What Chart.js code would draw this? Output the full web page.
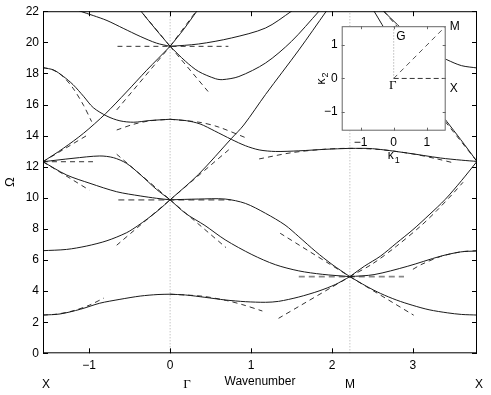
<!DOCTYPE html>
<html>
<head>
<meta charset="utf-8">
<script src="https://cdn.jsdelivr.net/npm/chart.js@4.4.1/dist/chart.umd.min.js"></script>
<style>
  body { margin: 0; background: #fff; }
  #wrap { position: relative; width: 491px; height: 395px; }
  #bands { position: absolute; left: 0; top: 0; }
  #zone { position: absolute; left: 300px; top: 15px; }
</style>
</head>
<body>
<div id="wrap">
  <canvas id="bands" width="491" height="395"></canvas>
  <canvas id="zone" width="180" height="160"></canvas>
</div>
<script>
// axes
const kRange = [-1.5708, 3.7922];
const omegaRange = [0, 22];
const xTicks = [-1, 0, 1, 2, 3];
const yTicks = [0, 2, 4, 6, 8, 10, 12, 14, 16, 18, 20, 22];
const symPoints = [-1.5708, 0, 2.2214, 3.7922];
const symNames = ['X', 'Γ', 'M', 'X'];

// solid bands, [wavenumber, Omega], X -> Gamma
const xgBand1 = [[-1.571,2.46],[-1.36,2.53],[-1.11,2.83],[-0.87,3.22],[-0.62,3.47],[-0.37,3.68],[-0.15,3.78],[0,3.8]];
const xgBand2 = [[-1.571,6.6],[-1.28,6.68],[-1.03,6.9],[-0.78,7.24],[-0.54,7.75],[-0.4,8.2],[-0.28,8.65],[-0.14,9.22],[0,9.87]];
const xgBand3 = [[-1.571,12.32],[-1.28,11.47],[-0.99,10.93],[-0.66,10.39],[-0.37,10.12],[-0.17,9.97],[0,9.87]];
const xgBand4 = [[-1.571,12.32],[-1.2,12.54],[-0.87,12.69],[-0.7,12.58],[-0.54,12.22],[-0.37,11.5],[-0.17,10.55],[0,9.87]];
const xgBand5 = [[-1.571,12.32],[-1.32,13.18],[-1.07,14.15],[-0.8,15.4],[-0.54,16.8],[-0.29,18.2],[0,19.74]];
const xgBand6 = [[-1.571,18.37],[-1.44,18.22],[-1.32,17.81],[-1.2,17.28],[-1.07,16.53],[-0.95,15.8],[-0.78,15.25],[-0.62,14.95],[-0.45,14.86],[-0.25,14.97],[0,15.05]];
const xgBand7 = [[-1.25,22.3],[-1.11,22.0],[-0.95,21.72],[-0.78,21.4],[-0.58,20.9],[-0.37,20.38],[-0.17,19.95],[0,19.74]];
const xgBand8 = [[-0.42,22.45],[-0.36,22.0],[-0.18,20.85],[0,19.74]];

// Gamma -> M
const gmBand1 = [[0,3.8],[0.19,3.75],[0.43,3.6],[0.68,3.43],[0.93,3.32],[1.18,3.28],[1.34,3.34],[1.59,3.62],[1.84,4.01],[2.04,4.42],[2.221,4.93]];
const gmBand2 = [[0,9.87],[0.19,9.0],[0.43,8.22],[0.68,7.3],[1.01,6.35],[1.3,5.7],[1.59,5.3],[1.88,5.08],[2.221,4.93]];
const gmBand3 = [[0,9.87],[0.35,9.92],[0.68,9.92],[0.93,9.64],[1.18,9.0],[1.42,8.25],[1.59,7.5],[1.8,6.54],[2.0,5.72],[2.221,4.93]];
const gmBand4 = [[0,9.87],[0.35,11.5],[0.76,13.83],[0.91,14.68],[1.18,16.65],[1.59,19.5],[1.93,22.0],[2.0,22.5]];
const gmBand5 = [[0,15.05],[0.2,14.96],[0.37,14.75],[0.55,14.3],[0.76,13.75],[0.93,13.35],[1.1,13.08],[1.3,12.98],[1.59,13.02],[1.92,13.12],[2.221,13.18]];
const gmBand6 = [[0,19.74],[0.35,19.89],[0.76,20.28],[1.18,20.92],[1.5,22.0],[1.6,22.4]];
const gmBand7 = [[0,19.74],[0.19,18.78],[0.35,18.13],[0.56,17.66],[0.65,17.6],[0.85,17.8],[1.18,18.67],[1.5,20.06],[1.84,22.0],[1.9,22.35]];
const gmBand8 = [[0,19.74],[0.17,20.85],[0.33,22.0],[0.38,22.35]];

// M -> X
const mxBand1 = [[2.221,4.93],[2.43,4.3],[2.6,3.85],[2.8,3.42],[3.0,3.08],[3.2,2.8],[3.43,2.6],[3.6,2.5],[3.792,2.46]];
const mxBand2 = [[2.221,4.93],[2.52,5.06],[2.93,5.59],[3.34,6.24],[3.59,6.52],[3.792,6.58]];
const mxBand3 = [[2.221,4.93],[2.4,5.6],[2.6,6.25],[2.8,7.1],[3.0,7.95],[3.2,8.9],[3.4,9.9],[3.6,11.1],[3.792,12.34]];
const mxBand4 = [[2.221,13.18],[2.5,13.16],[2.93,12.88],[3.34,12.56],[3.6,12.42],[3.792,12.34]];
const mxBand5 = [[2.48,22.35],[2.52,22.0],[2.62,21.13],[2.8,19.5],[3.0,17.9],[3.2,16.4],[3.42,14.9],[3.59,13.75],[3.792,12.34]];
const mxBand6 = [[2.58,22.4],[2.64,22.0],[2.81,21.13],[3.0,20.2],[3.2,19.45],[3.42,18.88],[3.6,18.5],[3.792,18.35]];

// dashed approximations
const gDash1 = [[-0.65,19.74],[0.72,19.74]];
const gDash2 = [[-0.4,22.25],[0,19.74]];
const gDash3 = [[0,19.74],[0.35,22.2]];
const gDash4 = [[0,19.74],[0.47,16.83]];
const gDash5 = [[-0.66,15.65],[0,19.74]];
const gDash6 = [[-0.64,9.87],[0.75,9.87]];
const gDash7 = [[-0.66,6.95],[0,9.87]];
const gDash8 = [[0,9.87],[0.69,6.8]];
const gDash9 = [[0,9.87],[0.75,13.2]];
const gDash10 = [[-0.66,12.8],[0,9.87]];
const gDash11 = [[-0.66,14.36],[-0.45,14.73],[-0.25,14.95],[0,15.05]];
const gDash12 = [[0,15.05],[0.37,14.85],[0.6,14.55],[0.95,13.83]];
const gDash13 = [[0,3.8],[0.4,3.67],[0.7,3.39],[0.9,3.12],[1.14,2.72]];
const xDash1 = [[-1.571,2.46],[-1.4,2.52],[-1.2,2.73],[-1.0,3.09],[-0.82,3.55]];
const xDash2 = [[-1.571,12.32],[-0.95,12.32]];
const xDash3 = [[-1.571,12.32],[-1.0,14.1]];
const xDash4 = [[-1.571,12.32],[-1.0,10.5]];
const xDash5 = [[-1.571,18.37],[-1.45,18.23],[-1.32,17.78],[-1.2,17.05],[-1.07,15.95],[-0.97,14.9]];
const mDash1 = [[1.59,4.93],[2.89,4.93]];
const mDash2 = [[1.34,2.25],[2.221,4.93]];
const mDash3 = [[1.36,7.72],[2.221,4.93]];
const mDash4 = [[2.221,4.93],[2.5,5.75],[2.8,6.9],[3.1,8.2],[3.3,9.2],[3.5,10.3],[3.62,11.0]];
const mDash5 = [[2.221,4.93],[3.01,2.45]];
const mDash6 = [[1.1,12.5],[1.5,12.9],[1.9,13.12],[2.221,13.18],[2.6,13.1],[3.0,12.82],[3.3,12.5],[3.5,12.25]];
const xrDash1 = [[3.0,5.4],[3.1,5.7],[3.34,6.22],[3.6,6.53],[3.792,6.6]];
const xrDash2 = [[3.4,14.9],[3.792,12.34]];
const xrDash3 = [[2.64,22.0],[2.8,21.05]];

// inset: Brillouin zone
const zoneRange = [-1.5708, 1.5708];
const zoneTicks = [-1, 0, 1];
const pathGG = [[0,0],[0,1.5708]];
const pathGM = [[0,0],[1.5708,1.5708]];
const pathGX = [[0,0],[1.5708,0]];

const solidBands = [xgBand1, xgBand2, xgBand3, xgBand4, xgBand5, xgBand6, xgBand7, xgBand8,
  gmBand1, gmBand2, gmBand3, gmBand4, gmBand5, gmBand6, gmBand7, gmBand8,
  mxBand1, mxBand2, mxBand3, mxBand4, mxBand5, mxBand6];
const dashedBands = [gDash1, gDash2, gDash3, gDash4, gDash5, gDash7, gDash8, gDash9, gDash10,
  gDash11, gDash12, gDash13, xDash1, xDash2, xDash3, xDash4, xDash5,
  mDash2, mDash3, mDash4, mDash5, mDash6, xrDash1, xrDash2, xrDash3];
const greyDashed = [gDash6, mDash1];

Chart.defaults.font.family = '"Liberation Sans", Arial, sans-serif';
Chart.defaults.font.size = 12;
Chart.defaults.color = '#000';

const pts = arr => arr.map(p => ({ x: p[0], y: p[1] }));

let datasets = [];
[symPoints[1], symPoints[2]].forEach(k => {
  datasets.push({ data: pts([[k, omegaRange[0]], [k, omegaRange[1]]]), borderColor: '#aaa',
    borderWidth: 1, borderDash: [1, 2], order: 10, tension: 0 });
});
greyDashed.forEach(d => datasets.push({ data: pts(d), borderColor: '#888', borderWidth: 1.8,
  borderDash: [6, 4], order: 6, tension: 0 }));
dashedBands.forEach(d => datasets.push({ data: pts(d), borderColor: '#333', borderWidth: 1,
  borderDash: [5, 4], order: 5, tension: 0.3 }));
solidBands.forEach(d => datasets.push({ data: pts(d), borderColor: '#1a1a1a', borderWidth: 1,
  order: 0, tension: 0.3 }));

const frame = {
  id: 'frame',
  afterDraw(chart) {
    const { ctx, chartArea: a, scales: { x, y } } = chart;
    ctx.save();
    ctx.strokeStyle = '#000';
    ctx.lineWidth = 1;
    ctx.strokeRect(a.left + 0.5, a.top + 0.5, a.right - a.left - 1, a.bottom - a.top - 1);
    ctx.beginPath();
    xTicks.forEach(v => {
      const px = Math.round(x.getPixelForValue(v)) + 0.5;
      ctx.moveTo(px, a.bottom); ctx.lineTo(px, a.bottom - 5);
      ctx.moveTo(px, a.top); ctx.lineTo(px, a.top + 5);
    });
    yTicks.forEach(v => {
      const py = Math.round(y.getPixelForValue(v)) + 0.5;
      ctx.moveTo(a.left, py); ctx.lineTo(a.left + 5, py);
      ctx.moveTo(a.right, py); ctx.lineTo(a.right - 5, py);
    });
    ctx.stroke();
    // symmetry point names under the axis
    const nudge = [3, 17, 0, 2];
    ctx.textAlign = 'center';
    ctx.textBaseline = 'middle';
    symPoints.forEach((k, i) => {
      ctx.font = symNames[i] === 'Γ' ? '13px "Liberation Serif", serif' : '12px "Liberation Sans", Arial, sans-serif';
      ctx.fillText(symNames[i], x.getPixelForValue(k) + nudge[i], 385);
    });
    ctx.restore();
  }
};

new Chart(document.getElementById('bands'), {
  type: 'line',
  data: { datasets },
  options: {
    responsive: false,
    animation: false,
    events: [],
    layout: { padding: { top: 11, right: 14, left: 0, bottom: 0 } },
    elements: { point: { radius: 0 } },
    plugins: { legend: { display: false }, tooltip: { enabled: false } },
    scales: {
      x: {
        type: 'linear', min: kRange[0], max: kRange[1],
        afterBuildTicks: s => { s.ticks = xTicks.map(v => ({ value: v })); },
        afterFit: s => { s.height = 41.7; },
        grid: { display: false, drawTicks: false },
        border: { display: false },
        ticks: { padding: 5, maxRotation: 0, callback: v => String(v).replace('-', '\u2212') },
        title: { display: true, text: 'Wavenumber', padding: { top: 0, bottom: 6 } }
      },
      y: {
        min: omegaRange[0], max: omegaRange[1],
        afterBuildTicks: s => { s.ticks = yTicks.map(v => ({ value: v })); },
        afterFit: s => { s.width = 43; },
        grid: { display: false, drawTicks: false },
        border: { display: false },
        ticks: { padding: 4 },
        title: { display: true, text: 'Ω', font: { size: 13 }, padding: { top: 3, bottom: 0 } }
      }
    }
  },
  plugins: [frame]
});

// inset
const zoneDecor = {
  id: 'zoneDecor',
  beforeDraw(chart) {
    const { ctx, chartArea: a } = chart;
    ctx.save();
    ctx.fillStyle = '#fff';
    ctx.fillRect(a.left, a.top, a.right - a.left, a.bottom - a.top);
    ctx.restore();
  },
  afterDraw(chart) {
    const { ctx, chartArea: a, scales: { x, y } } = chart;
    ctx.save();
    ctx.strokeStyle = '#666';
    ctx.lineWidth = 1;
    ctx.strokeRect(a.left + 0.5, a.top + 0.5, a.right - a.left - 1, a.bottom - a.top - 1);
    ctx.beginPath();
    zoneTicks.forEach(v => {
      const px = Math.round(x.getPixelForValue(v)) + 0.5;
      ctx.moveTo(px, a.bottom); ctx.lineTo(px, a.bottom - 3);
      ctx.moveTo(px, a.top); ctx.lineTo(px, a.top + 3);
      const py = Math.round(y.getPixelForValue(v)) + 0.5;
      ctx.moveTo(a.left, py); ctx.lineTo(a.left + 3, py);
      ctx.moveTo(a.right, py); ctx.lineTo(a.right - 3, py);
    });
    ctx.stroke();
    const ox = x.getPixelForValue(0), oy = y.getPixelForValue(0);
    ctx.fillStyle = '#000';
    ctx.textBaseline = 'middle';
    ctx.font = '12px "Liberation Sans", Arial, sans-serif';
    ctx.textAlign = 'left';
    ctx.fillText('G', ox + 2.5, a.top + 10);
    ctx.fillText('M', a.right + 4, a.top);
    ctx.fillText('X', a.right + 4, oy + 10);
    ctx.textAlign = 'center';
    ctx.font = '13px "Liberation Serif", serif';
    ctx.fillText('Γ', ox - 1, oy + 7);
    // axis names with subscripts
    ctx.font = '12px "Liberation Sans", Arial, sans-serif';
    ctx.textAlign = 'left';
    ctx.textBaseline = 'alphabetic';
    ctx.fillText('κ', ox - 6, a.bottom + 28);
    ctx.font = '9px "Liberation Sans", Arial, sans-serif';
    ctx.fillText('1', ox + 1, a.bottom + 32);
    ctx.translate(a.left - 22, oy);
    ctx.rotate(-Math.PI / 2);
    ctx.font = '12px "Liberation Sans", Arial, sans-serif';
    ctx.fillText('κ', -6, 5);
    ctx.font = '9px "Liberation Sans", Arial, sans-serif';
    ctx.fillText('2', 1, 8);
    ctx.restore();
  }
};

new Chart(document.getElementById('zone'), {
  type: 'line',
  data: {
    datasets: [
      { data: pts(pathGG), borderColor: '#999', borderWidth: 1, borderDash: [1, 2] },
      { data: pts(pathGM), borderColor: '#555', borderWidth: 1, borderDash: [5, 4] },
      { data: pts(pathGX), borderColor: '#333', borderWidth: 1, borderDash: [5, 3] }
    ]
  },
  options: {
    responsive: false,
    animation: false,
    events: [],
    layout: { padding: { top: 10, right: 34.3, left: 0, bottom: 0 } },
    elements: { point: { radius: 0 } },
    plugins: { legend: { display: false }, tooltip: { enabled: false } },
    scales: {
      x: {
        type: 'linear', min: zoneRange[0], max: zoneRange[1],
        afterBuildTicks: s => { s.ticks = zoneTicks.map(v => ({ value: v })); },
        afterFit: s => { s.height = 44.3; },
        grid: { display: false, drawTicks: false },
        border: { display: false },
        ticks: { padding: 5, maxRotation: 0, callback: v => String(v).replace('-', '\u2212') }
      },
      y: {
        type: 'linear', min: zoneRange[0], max: zoneRange[1],
        afterBuildTicks: s => { s.ticks = zoneTicks.map(v => ({ value: v })); },
        afterFit: s => { s.width = 41.7; },
        grid: { display: false, drawTicks: false },
        border: { display: false },
        ticks: { padding: 4, callback: v => String(v).replace('-', '\u2212') }
      }
    }
  },
  plugins: [zoneDecor]
});
</script>
</body>
</html>
